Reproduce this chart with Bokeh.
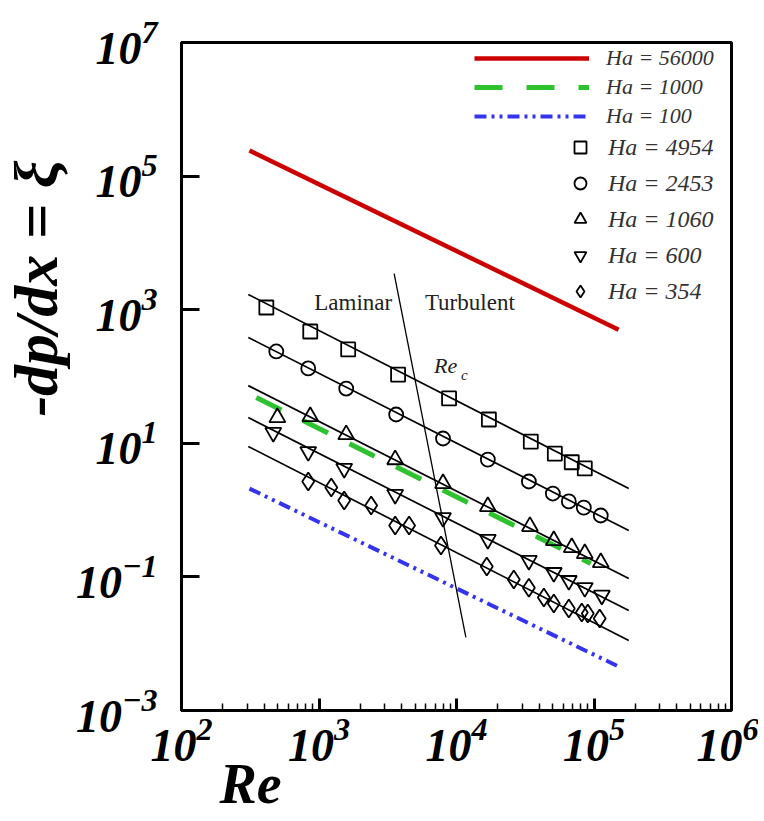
from bokeh.plotting import figure
from bokeh.models import (FixedTicker, LogTickFormatter, Legend, LegendItem,
                          Label, Range1d, Title)
from bokeh.embed import file_html
from bokeh.resources import INLINE

# ---------------- data ----------------
re_4954 = [414, 864, 1630, 3760, 8830, 17200, 34700, 51900, 68900, 85700]
xi_4954 = [1079, 472, 254, 107, 46.9, 22.7, 10.6, 7.0, 5.2, 4.2]

re_2453 = [489, 835, 1577, 3640, 7980, 16900, 33600, 50200, 65600, 84300, 112000]
xi_2453 = [237, 132, 66, 27, 11.8, 5.7, 2.68, 1.77, 1.35, 1.09, 0.83]

re_1060 = [498, 864, 1577, 3580, 7980, 16900, 34200, 51000, 68900, 85700, 112000]
xi_1060 = [24.3, 25.2, 13.5, 5.7, 2.5, 1.13, 0.57, 0.35, 0.275, 0.224, 0.164]

re_600 = [465, 835, 1525, 3580, 7980, 16900, 33600, 51000, 65600, 85700, 114000]
xi_600 = [14.5, 7.5, 4.2, 1.71, 0.77, 0.363, 0.176, 0.116, 0.088, 0.069, 0.053]

re_354 = [835, 1228, 1525, 2395, 3580, 4520, 7710, 16600, 26100, 33600,
          43200, 51000, 65600, 81500, 90100, 110000]
xi_354 = [2.68, 2.18, 1.39, 1.17, 0.59, 0.59, 0.295, 0.143, 0.0914, 0.069,
          0.049, 0.040, 0.0337, 0.0293, 0.0283, 0.0238]

# fitted straight lines through each data set
fit_re = [306, 179000]
fit_xi_4954 = [1690, 2.1]
fit_xi_2453 = [384, 0.495]
fit_xi_1060 = [73, 0.095]
fit_xi_600 = [24.3, 0.0314]
fit_xi_354 = [8.96, 0.0112]

# computed curves
re_56000 = [312, 151000]
xi_56000 = [2.42e5, 500]
re_1000 = [350, 94700]
xi_1000 = [48.5, 0.159]
re_100 = [312, 156000]
xi_100 = [2.1, 0.0044]

# critical Reynolds number line
rec_re = [3520, 11700]
rec_xi = [3480, 0.0124]

x_ticks = [1e2, 1e3, 1e4, 1e5, 1e6]
y_ticks = [1e-3, 1e-1, 1e1, 1e3, 1e5, 1e7]
x_minor = [k * 10 ** d for d in range(2, 6) for k in range(2, 10)]

# annotation anchors (data coordinates)
laminar_pos = (1775, 1283)
turbulent_pos = (12500, 1300)
rec_pos = (6870, 146)
rec_sub_pos = (10790, 107)

SERIF = "Liberation Serif"

# ---------------- figure ----------------
p = figure(width=758, height=820, x_axis_type="log", y_axis_type="log",
           x_range=Range1d(1e2, 1e6), y_range=Range1d(1e-3, 1e7),
           output_backend="svg", toolbar_location=None,
           min_border_left=180, min_border_top=42, min_border_right=27,
           min_border_bottom=110)
p.grid.visible = False
p.outline_line_color = "black"
p.outline_line_width = 3
p.background_fill_color = "white"

p.xaxis.ticker = FixedTicker(ticks=x_ticks, minor_ticks=x_minor)
p.yaxis.ticker = FixedTicker(ticks=y_ticks, minor_ticks=[])
for ax in (p.xaxis, p.yaxis):
    ax.formatter = LogTickFormatter()
    ax.axis_line_width = 3
    ax.axis_line_color = "black"
    ax.major_tick_out = 0
    ax.minor_tick_out = 0
    ax.major_tick_line_width = 3
    ax.minor_tick_line_width = 1.5
    ax.major_label_text_font = SERIF
    ax.major_label_text_font_style = "bold italic"
    ax.major_label_text_font_size = "46px"
    ax.major_label_text_color = "black"
p.xaxis.major_tick_in = 12
p.xaxis.minor_tick_in = 7
p.yaxis.major_tick_in = 18
p.yaxis.minor_tick_in = 0
p.xaxis.major_label_standoff = 8
p.yaxis.major_label_standoff = 24

# curves
r_red = p.line(re_56000, xi_56000, line_color="#cc0000", line_width=4.5)
r_green = p.line(re_1000, xi_1000, line_color="#2ec22e", line_width=5,
                 line_dash="28 24")
r_blue = p.line(re_100, xi_100, line_color="#3434ee", line_width=4,
                line_dash="12 5 3 5 3 5")

# fitted lines
for fy in (fit_xi_4954, fit_xi_2453, fit_xi_1060, fit_xi_600, fit_xi_354):
    p.line(fit_re, fy, line_color="black", line_width=1.7)

p.line(rec_re, rec_xi, line_color="black", line_width=1.3)

mk = dict(line_color="black", line_width=1.8, fill_alpha=0)
r_sq = p.scatter(re_4954, xi_4954, marker="square", size=14, **mk)
r_ci = p.scatter(re_2453, xi_2453, marker="circle", size=14, **mk)
r_tr = p.scatter(re_1060, xi_1060, marker="triangle", size=16, **mk)
r_it = p.scatter(re_600, xi_600, marker="inverted_triangle", size=16, **mk)
r_di = p.scatter(re_354, xi_354, marker="diamond", size=18, **mk)

# text annotations inside the frame
for (x, y), t, fs, st, al in [
    (laminar_pos, "Laminar", "23px", "normal", "center"),
    (turbulent_pos, "Turbulent", "23px", "normal", "center"),
    (rec_pos, "Re", "22px", "italic", "left"),
    (rec_sub_pos, "c", "15px", "italic", "left"),
]:
    p.add_layout(Label(x=x, y=y, text=t, text_font=SERIF, text_font_size=fs,
                       text_font_style=st, text_align=al,
                       text_baseline="middle", text_color="#222222"))

# axis titles
xt = Title(text="Re", align="left", offset=38, vertical_align="top",
           text_font=SERIF, text_font_size="56px",
           text_font_style="bold italic", text_color="black")
try:
    xt.standoff = -22
except Exception:
    xt.standoff = 0
p.add_layout(xt, "below")

yt = Title(text="-dp/dx = \u03be", align="right", offset=118,
           vertical_align="top", standoff=2,
           text_font=SERIF, text_font_size="62px",
           text_font_style="bold italic", text_color="black")
p.add_layout(yt, "left")

# legends
leg_common = dict(padding=0, margin=0, border_line_alpha=0,
                  background_fill_alpha=0, label_text_font=SERIF,
                  label_text_font_style="italic", label_text_color="#333333")
leg1 = Legend(items=[LegendItem(label="Ha = 56000", renderers=[r_red]),
                     LegendItem(label="Ha = 1000", renderers=[r_green]),
                     LegendItem(label="Ha = 100", renderers=[r_blue])],
              location=(293, 581), glyph_width=115, glyph_height=26,
              label_height=26, spacing=3, label_standoff=17,
              label_text_font_size="22px", **leg_common)
leg2 = Legend(items=[LegendItem(label="Ha = 4954", renderers=[r_sq]),
                     LegendItem(label="Ha = 2453", renderers=[r_ci]),
                     LegendItem(label="Ha = 1060", renderers=[r_tr]),
                     LegendItem(label="Ha = 600", renderers=[r_it]),
                     LegendItem(label="Ha = 354", renderers=[r_di])],
              location=(384, 404), glyph_width=30, glyph_height=30,
              label_height=30, spacing=6, label_standoff=13,
              label_text_font_size="24px", **leg_common)
p.add_layout(leg1)
p.add_layout(leg2)

open("out.html", "w").write(file_html(p, INLINE))
